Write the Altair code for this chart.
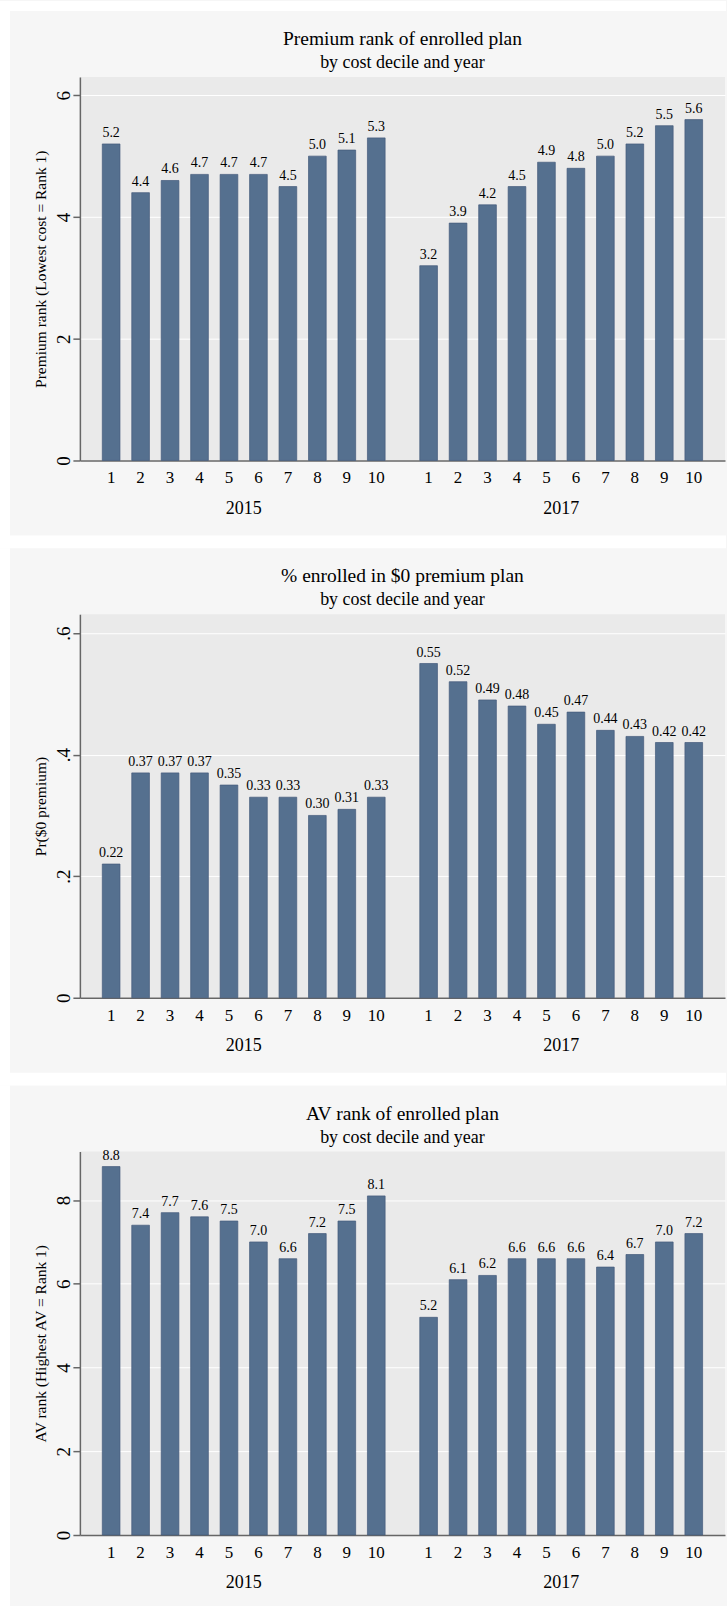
import altair as alt
import pandas as pd

# ---- data -------------------------------------------------------------
years = ["2015", "2017"]
deciles = [1, 2, 3, 4, 5, 6, 7, 8, 9, 10]

premium_rank_2015 = [5.2, 4.4, 4.6, 4.7, 4.7, 4.7, 4.5, 5.0, 5.1, 5.3]
premium_rank_2017 = [3.2, 3.9, 4.2, 4.5, 4.9, 4.8, 5.0, 5.2, 5.5, 5.6]

zero_premium_2015 = [0.22, 0.37, 0.37, 0.37, 0.35, 0.33, 0.33, 0.30, 0.31, 0.33]
zero_premium_2017 = [0.55, 0.52, 0.49, 0.48, 0.45, 0.47, 0.44, 0.43, 0.42, 0.42]

av_rank_2015 = [8.8, 7.4, 7.7, 7.6, 7.5, 7.0, 6.6, 7.2, 7.5, 8.1]
av_rank_2017 = [5.2, 6.1, 6.2, 6.6, 6.6, 6.6, 6.4, 6.7, 7.0, 7.2]

premium_ticks = [0, 2, 4, 6]
zero_premium_ticks = [0, 0.2, 0.4, 0.6]
av_ticks = [0, 2, 4, 6, 8]

# ---- style ------------------------------------------------------------
SERIF = "Liberation Serif"
W, H = 646, 384
OUTER_BG = "#f6f6f6"
PLOT_BG = "#eaeaea"
BAR = "#55708f"
BAR_EDGE = "#43597a"
AXIS = "#666666"


def frame(v_first, v_second):
    rows = []
    for yr, vals in zip(years, [v_first, v_second]):
        for d, v in zip(deciles, vals):
            rows.append({"year": yr, "decile": d, "value": v})
    return pd.DataFrame(rows)


def strip(x0, x1, y0, y1):
    """White separator band around a panel (page margin / gap between panels)."""
    return alt.Chart(alt.Data(values=[{"k": 0}])).mark_rect(color="white").encode(
        x=alt.value(x0), x2=alt.value(x1), y=alt.value(y0), y2=alt.value(y1)
    )


def panel(title, subtitle, ytitle, v_first, v_second, ymax, ticks, tick_expr,
          fmt, first=False):
    df = frame(v_first, v_second)
    one = alt.Data(values=[{"k": 0}])

    x_axis = alt.Axis(
        title=None, labelAngle=0, ticks=False, grid=False,
        labelFont=SERIF, labelFontSize=18, labelColor="black",
        labelBaseline="middle", labelPadding=48,
        domainColor=AXIS, domainWidth=1.5,
    )
    y_axis = alt.Axis(
        title=ytitle, values=ticks, labelExpr=tick_expr,
        grid=True, gridColor="white", gridWidth=1, gridOpacity=1,
        labelAngle=270, labelAlign="center", labelBaseline="middle",
        labelFont=SERIF, labelFontSize=19, labelColor="black", labelPadding=9,
        tickSize=7, tickWidth=1.5, tickColor=AXIS,
        domainColor=AXIS, domainWidth=1.5,
        titleFont=SERIF, titleFontSize=15.5, titleFontWeight="normal",
        titleColor="black", titleAngle=270, titleAlign="center",
        titleBaseline="middle", titleX=-39, titleY=H / 2,
    )
    x_scale = alt.Scale(paddingInner=0, paddingOuter=0.016)
    off_scale = alt.Scale(paddingInner=0.4, paddingOuter=0.588)
    y_scale = alt.Scale(domain=[0, ymax], nice=False, zero=True)

    def x_enc():
        return alt.X("year:N", scale=x_scale, axis=x_axis)

    def off_enc():
        return alt.XOffset("decile:O", scale=off_scale)

    def y_enc():
        return alt.Y("value:Q", scale=y_scale, axis=y_axis)

    bars = alt.Chart(df).mark_bar(
        color=BAR, stroke=BAR_EDGE, strokeWidth=0.7
    ).encode(x=x_enc(), xOffset=off_enc(), y=y_enc())

    values = alt.Chart(df).mark_text(
        font=SERIF, fontSize=14, baseline="alphabetic", dy=-7, color="black"
    ).encode(
        x=x_enc(), xOffset=off_enc(), y=y_enc(),
        text=alt.Text("value:Q", format=fmt),
    )

    decile_labels = alt.Chart(df).mark_text(
        font=SERIF, fontSize=17, baseline="middle", color="black"
    ).encode(
        x=x_enc(), xOffset=off_enc(), y=alt.value(H + 18), text="decile:O",
    )

    head = alt.Chart(one).mark_text(
        font=SERIF, fontSize=19.5, baseline="middle", color="black"
    ).encode(x=alt.value(W / 2), y=alt.value(-38), text=alt.value(title))
    sub = alt.Chart(one).mark_text(
        font=SERIF, fontSize=18, baseline="middle", color="black"
    ).encode(x=alt.value(W / 2), y=alt.value(-14), text=alt.value(subtitle))

    top = -76 if first else -66
    layers = [
        strip(-80, -70, top, H + 88),       # left page margin
        strip(-80, W + 1, H + 75, H + 88),  # gap below the panel
    ]
    if first:
        layers.append(strip(-80, W + 1, -76, -66))  # top page margin
    layers += [bars, values, decile_labels, head, sub]
    return alt.layer(*layers).properties(width=W, height=H)


p1 = panel(
    "Premium rank of enrolled plan", "by cost decile and year",
    "Premium rank (Lowest cost = Rank 1)",
    premium_rank_2015, premium_rank_2017, 6.3, premium_ticks,
    "format(datum.value, 'd')", ".1f", first=True,
)
p2 = panel(
    "% enrolled in $0 premium plan", "by cost decile and year",
    "Pr($0 premium)",
    zero_premium_2015, zero_premium_2017, 0.631, zero_premium_ticks,
    "datum.value == 0 ? '0' : replace(format(datum.value, '.1f'), '0.', '.')", ".2f",
)
p3 = panel(
    "AV rank of enrolled plan", "by cost decile and year",
    "AV rank (Highest AV = Rank 1)",
    av_rank_2015, av_rank_2017, 9.16, av_ticks,
    "format(datum.value, 'd')", ".1f",
)

chart = (
    alt.vconcat(p1, p2, p3, spacing=0)
    .properties(padding={"left": 0, "top": 0, "right": 1, "bottom": 0})
    .configure(background=OUTER_BG)
    .configure_view(stroke=None, fill=PLOT_BG)
)

chart.save("out.html", embed_options={"renderer": "svg", "actions": False})
